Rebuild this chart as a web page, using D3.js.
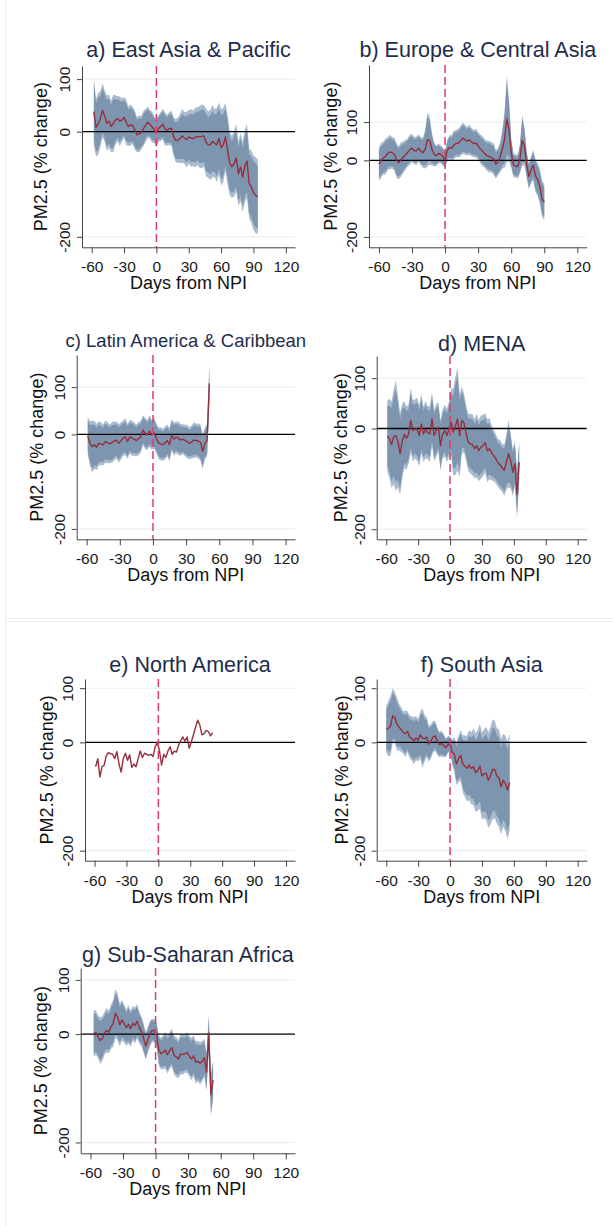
<!DOCTYPE html>
<html>
<head>
<meta charset="utf-8">
<script src="https://cdn.jsdelivr.net/npm/d3@7"></script>
<style>
  body { margin: 0; background: #fff; }
  svg text { font-family: "Liberation Sans", Arial, sans-serif; }
</style>
</head>
<body>
<script>
// ---- data (daily estimates, every 2nd day) ----
const xTicks = [-60, -30, 0, 30, 60, 90, 120];
const yTicks = [-200, 0, 100];
const gridTicks = [-200, 100];
const STEP = 2;

const eapStart = -58;
const eapMean = [38, 8, 15, 24, 41, 30, 16, 20, 10, 16, 22, 25, 20, 22, 27, 18, 10, 13, 12, 3,
  -6, -4, -2, 6, 12, 18, 14, 9, 4, -3, 6, 10, 14, 5, 3, 6, 6, -10, -17, -16,
  -13, -8, -12, -15, -10, -12, -13, -11, -9, -10, -9, -8, -20, -25, -25, -18, -22, -25, -13, -30,
  -25, -10, -35, -60, -67, -61, -50, -80, -67, -86, -65, -56, -99, -105, -116, -121, -124];
const eapSe = [33, 28, 30, 27, 26, 25, 27, 26, 25, 28, 24, 22, 24, 21, 20, 22, 19, 20, 18, 19,
  17, 18, 16, 17, 16, 15, 14, 15, 13, 14, 13, 14, 15, 16, 15, 16, 17, 19, 21, 22,
  24, 26, 25, 27, 26, 28, 27, 29, 28, 30, 31, 30, 33, 32, 34, 35, 33, 36, 35, 37,
  36, 33, 34, 31, 30, 32, 33, 31, 33, 34, 35, 36, 34, 35, 36, 37, 36];

const ecaStart = -60;
const ecaMean = [-10, 0, 6, 10, 18, 22, 20, 16, 0, -6, 2, 8, 14, 20, 28, 32, 25, 25, 32, 24,
  20, 30, 54, 52, 30, 16, 12, 18, 16, 10, 1, 26, 34, 32, 40, 44, 45, 50, 58, 54,
  50, 54, 48, 44, 45, 38, 30, 24, 18, 12, 10, 8, 4, -10, -4, 8, 30, 55, 108, 80,
  20, -12, -15, -16, 5, 52, 38, -10, -42, -25, -12, -40, -50, -68, -100, -109];
const ecaSe = [22, 23, 22, 24, 22, 23, 21, 22, 23, 22, 23, 21, 20, 19, 20, 19, 18, 19, 18, 19,
  20, 26, 36, 32, 22, 16, 14, 13, 12, 12, 11, 14, 16, 17, 19, 18, 19, 20, 21, 20,
  19, 20, 19, 18, 19, 18, 19, 20, 19, 20, 21, 20, 21, 19, 18, 20, 26, 38, 58, 42,
  20, 16, 15, 16, 20, 34, 26, 18, 17, 18, 20, 22, 22, 23, 24, 24];

const lacStart = -59;
const lacMean = [-3, -19, -26, -22, -27, -19, -20, -22, -15, -18, -20, -17, -14, -12, -19, -14, -8, -5, -15, -5,
  -8, -10, -13, -9, -5, 9, 2, -1, 7, -1, 3, -8, -18, -20, -22, -18, -13, -22, -1, -10,
  -6, -8, -12, -10, -13, -15, -19, -16, -12, -13, -14, -17, -36, -19, -12, 108];
const lacSe = [20, 24, 28, 26, 25, 24, 23, 22, 23, 22, 21, 22, 21, 20, 21, 20, 19, 20, 19, 18,
  19, 18, 17, 18, 17, 16, 17, 16, 17, 16, 17, 16, 17, 18, 17, 18, 17, 18, 17, 18,
  17, 18, 17, 16, 17, 18, 17, 18, 19, 18, 19, 20, 19, 17, 18, 21];

const menaStart = -59;
const menaMean = [-15, -20, -32, -16, -14, -26, -50, -25, -12, -19, -11, 16, -4, -1, -1, -14, 9, -11, -2, -8,
  -11, 19, -14, -4, 3, -34, -11, -4, -14, -1, 13, -7, 5, 19, -14, 16, 12, -8, -27, -30,
  -32, -40, -34, -44, -37, -34, -28, -44, -40, -48, -54, -60, -68, -72, -78, -83, -66, -50, -64, -87,
  -70, -130, -67];
const menaSe = [36, 40, 44, 48, 56, 46, 42, 38, 34, 32, 30, 33, 31, 30, 32, 31, 30, 28, 29, 27,
  28, 27, 26, 27, 25, 26, 25, 26, 27, 28, 34, 44, 50, 52, 42, 34, 30, 28, 29, 30,
  31, 30, 32, 31, 32, 31, 30, 32, 31, 28, 26, 25, 24, 25, 24, 26, 28, 34, 28, 24,
  23, 24, 22];

const naStart = -59;
const naMean = [-45, -30, -64, -45, -42, -25, -19, -21, -22, -30, -17, -40, -55, -30, -20, -33, -23, -46, -40, -45,
  -30, -16, -28, -20, -22, -24, -22, -26, -8, 0, -15, -42, -22, -28, -16, -8, -22, -16, -18, -5,
  3, 10, 2, 10, -11, 1, 14, 28, 41, 32, 14, 16, 22, 20, 12, 18];

const saStart = -60;
const saMean = [24, 26, 30, 49, 46, 34, 28, 24, 18, 16, 20, 10, 7, 3, 8, 4, 14, 8, 7, 10,
  -3, 2, 10, 12, 2, -4, -2, -6, -10, -4, -3, -18, -22, -40, -30, -24, -40, -44, -48, -42,
  -48, -45, -56, -52, -44, -62, -58, -57, -70, -62, -50, -50, -62, -66, -82, -70, -76, -88, -74];
const saSe = [22, 26, 28, 26, 24, 25, 22, 21, 20, 22, 19, 20, 21, 22, 21, 20, 22, 28, 22, 19,
  17, 16, 15, 14, 13, 12, 12, 11, 9, 8, 7, 12, 16, 20, 22, 24, 27, 29, 31, 33,
  34, 36, 37, 38, 40, 41, 42, 44, 45, 46, 47, 46, 45, 46, 45, 44, 45, 46, 46];

const ssaStart = -57;
const ssaMean = [1, 3, -5, -12, -8, 2, 7, 4, 14, 20, 38, 32, 17, 26, 20, 12, 18, 10, 20, 16,
  24, 12, 5, -8, -22, -10, 2, 7, 6, -2, -30, -36, -33, -30, -38, -30, -25, -39, -42, -46,
  -37, -38, -36, -34, -40, -46, -40, -52, -50, -54, -50, -44, -70, 2, -112, -85];
const ssaSe = [22, 21, 20, 22, 21, 20, 21, 20, 21, 22, 23, 22, 20, 19, 18, 17, 18, 17, 16, 17,
  16, 15, 14, 14, 13, 12, 12, 11, 11, 12, 14, 15, 16, 17, 18, 17, 18, 18, 19, 18,
  19, 19, 18, 19, 19, 20, 19, 20, 19, 20, 19, 18, 18, 17, 20, 19];

// ---- layout ----
const W = 613, H = 1226;
const X_DOMAIN = [-69, 128.5];
const Z95 = 1.96, Z90 = 1.645;

const panels = [
  { title: "a) East Asia & Pacific", start: eapStart, mean: eapMean, se: eapSe,
    left: 82, right: 295, top: 66, bottom: 247.3, yDomain: [-220, 125], titleY: 57, titleSize: 21.5, yTitleOff: 35 },
  { title: "b) Europe & Central Asia", start: ecaStart, mean: ecaMean, se: ecaSe,
    left: 369, right: 586.7, top: 65, bottom: 247.3, yDomain: [-227, 249], titleY: 57, titleSize: 21.5, yTitleOff: 32 },
  { title: "c) Latin America & Caribbean", start: lacStart, mean: lacMean, se: lacSe,
    left: 76.7, right: 295, top: 355, bottom: 539.3, yDomain: [-222, 168], titleY: 347, titleSize: 18.5, yTitleOff: 34 },
  { title: "d) MENA", start: menaStart, mean: menaMean, se: menaSe,
    left: 376.7, right: 586.7, top: 356, bottom: 539.3, yDomain: [-220, 144], titleY: 350.5, titleSize: 21.5, yTitleOff: 30 },
  { title: "e) North America", start: naStart, mean: naMean, se: null,
    left: 85, right: 295, top: 679, bottom: 860.7, yDomain: [-218.5, 117], titleY: 672, titleSize: 21.5, yTitleOff: 32 },
  { title: "f) South Asia", start: saStart, mean: saMean, se: saSe,
    left: 376.7, right: 586.7, top: 679, bottom: 860.7, yDomain: [-218.5, 117], titleY: 672, titleSize: 21.5, yTitleOff: 29 },
  { title: "g) Sub-Saharan Africa", start: ssaStart, mean: ssaMean, se: ssaSe,
    left: 80.7, right: 295, top: 968, bottom: 1153.3, yDomain: [-220, 122], titleY: 962, titleSize: 21.5, yTitleOff: 34 }
];

const svg = d3.select("body").append("svg")
  .attr("width", W).attr("height", H)
  .style("display", "block");

// faint borders of the two stacked source images
svg.append("line").attr("x1", 5.5).attr("x2", 5.5).attr("y1", 0).attr("y2", H)
  .attr("stroke", "#efefef");
[618.5, 621.5].forEach(yy => {
  svg.append("line").attr("x1", 5).attr("x2", W).attr("y1", yy).attr("y2", yy)
    .attr("stroke", "#efefef");
});

panels.forEach(drawPanel);

function drawPanel(p) {
  const g = svg.append("g");
  const x = d3.scaleLinear().domain(X_DOMAIN).range([p.left, p.right]);
  const y = d3.scaleLinear().domain(p.yDomain).range([p.bottom, p.top]);
  const fmt = d => String(d); // plain hyphen minus, like the source

  const rows = p.mean.map((m, i) => ({
    day: p.start + i * STEP,
    m: m,
    se: p.se ? p.se[i] : 0
  }));

  // light gridlines
  g.selectAll(".grid").data(gridTicks).enter().append("line")
    .attr("x1", p.left).attr("x2", p.right)
    .attr("y1", d => y(d)).attr("y2", d => y(d))
    .attr("stroke", "#e6eef1").attr("stroke-width", 1);

  // confidence bands
  if (p.se) {
    const band = z => d3.area()
      .x(d => x(d.day))
      .y0(d => y(d.m - z * d.se))
      .y1(d => y(d.m + z * d.se));
    g.append("path").datum(rows).attr("d", band(Z95)).attr("fill", "#a9bbce");
    g.append("path").datum(rows).attr("d", band(Z90)).attr("fill", "#7d95ae");
  }

  // zero line
  g.append("line")
    .attr("x1", p.left).attr("x2", p.right)
    .attr("y1", y(0)).attr("y2", y(0))
    .attr("stroke", "#000").attr("stroke-width", 1.3);

  // mean line
  g.append("path").datum(rows)
    .attr("d", d3.line().x(d => x(d.day)).y(d => y(d.m)))
    .attr("fill", "none")
    .attr("stroke", "#962f3d")
    .attr("stroke-width", 1.4)
    .attr("stroke-linejoin", "round");

  // NPI day line
  g.append("line")
    .attr("x1", x(0)).attr("x2", x(0))
    .attr("y1", p.top).attr("y2", p.bottom)
    .attr("stroke", "#dc3c6c").attr("stroke-width", 1.5)
    .attr("stroke-dasharray", "8,4");

  // x axis
  const xa = g.append("g")
    .attr("transform", `translate(0,${p.bottom})`)
    .call(d3.axisBottom(x).tickValues(xTicks).tickFormat(fmt).tickSize(6).tickSizeOuter(0));
  xa.select(".domain").attr("stroke", "#444");
  xa.selectAll(".tick line").attr("stroke", "#444");
  xa.selectAll("text")
    .attr("y", 25).attr("dy", null)
    .attr("font-size", 15.5).attr("fill", "#1a1a1a");

  // y axis
  const ya = g.append("g")
    .attr("transform", `translate(${p.left},0)`)
    .call(d3.axisLeft(y).tickValues(yTicks).tickFormat(fmt).tickSize(5).tickSizeOuter(0));
  ya.select(".domain").attr("stroke", "#444");
  ya.selectAll(".tick line").attr("stroke", "#444");
  ya.selectAll("text")
    .attr("x", null).attr("dy", null)
    .attr("transform", "translate(-12,0) rotate(-90)")
    .attr("text-anchor", "middle")
    .attr("font-size", 15.5).attr("fill", "#1a1a1a");

  // axis titles
  g.append("text")
    .attr("x", (p.left + p.right) / 2).attr("y", p.bottom + 42)
    .attr("text-anchor", "middle").attr("font-size", 18).attr("fill", "#111")
    .text("Days from NPI");

  g.append("text")
    .attr("transform", `translate(${p.left - p.yTitleOff},${(p.top + p.bottom) / 2}) rotate(-90)`)
    .attr("text-anchor", "middle").attr("font-size", 18).attr("fill", "#111")
    .text("PM2.5 (% change)");

  // panel title
  g.append("text")
    .attr("x", (p.left + p.right) / 2).attr("y", p.titleY)
    .attr("text-anchor", "middle").attr("font-size", p.titleSize)
    .attr("fill", "#1e2d4b")
    .text(p.title);
}
</script>
</body>
</html>
